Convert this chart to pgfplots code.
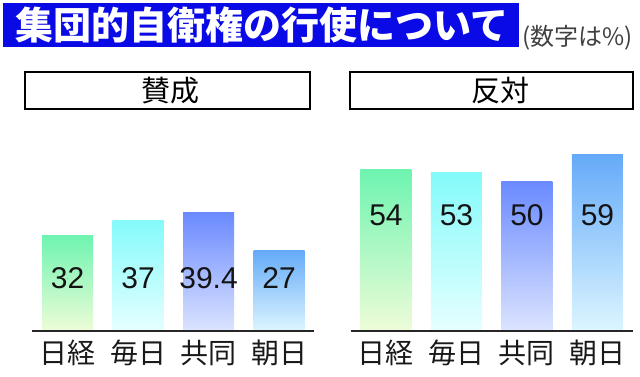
\documentclass[border=0pt]{standalone}
\usepackage{pgfplots}
\pgfplotsset{compat=1.18}
\usepackage{fontspec}
\setmainfont{Liberation Sans}
\newfontfamily\cjk{Noto Sans CJK JP}
\definecolor{titleblue}{HTML}{0A0AE6}
\definecolor{nkT}{HTML}{6EF4B0}\definecolor{nkB}{HTML}{EEFCD8}
\definecolor{mnT}{HTML}{84FAFA}\definecolor{mnB}{HTML}{E6FFFF}
\definecolor{kdT}{HTML}{6A8AFF}\definecolor{kdB}{HTML}{DCE4FF}
\definecolor{asT}{HTML}{64AAF8}\definecolor{asB}{HTML}{DDF6FF}
\pgfplotsset{
  panel/.style={
    scale only axis, width=282pt, height=180pt,
    xmin=-0.5, xmax=3.5, ymin=0, ymax=60,
    axis x line=bottom, axis y line=none, axis on top,
    x axis line style={line width=1.8pt, -, draw=black!85},
    xtick={0,1,2,3}, major tick length=0pt,
    xticklabels={日経,毎日,共同,朝日},
    xticklabel style={font=\cjk\fontsize{28}{28}\selectfont, anchor=base, yshift=-32pt, text=black!90},
    clip=false,
  },
  bar/.style n args={2}{ybar, bar width=51pt, bar shift=0pt, draw=none, top color=#1, bottom color=#2},
  vals/.style={only marks, mark=*, mark size=0.01pt, mark options={draw=none, fill=none},
    nodes near coords, point meta=explicit symbolic,
    every node near coord/.append style={anchor=center, font=\fontsize{30}{30}\selectfont, text=black!92}},
}
\begin{document}
\begin{tikzpicture}[x=1pt,y=1pt]
\path[use as bounding box] (0,0) rectangle (640,376);
% title
\fill[titleblue] (3,329) rectangle (519,373);
\node[anchor=center, text=white, font=\cjk\bfseries\fontsize{38}{38}\selectfont, inner sep=0pt] at (262,351) {集団的自衛権の行使について};
\node[anchor=base west, text=black!75, font=\cjk\fontsize{24}{24}\selectfont, inner sep=0pt] at (522,331) {(数字は\%)};
% headers
\draw[line width=1.3pt] (25,267) rectangle (310,304);
\node[font=\cjk\fontsize{29}{29}\selectfont] at (170,285.5) {賛成};
\draw[line width=1.3pt] (350,267) rectangle (633,304);
\node[font=\cjk\fontsize{29}{29}\selectfont] at (500,285.5) {反対};

\begin{axis}[panel, at={(32.3pt,45pt)}, anchor=south west]
\addplot[bar={nkT}{nkB}] coordinates {(0,32)};
\addplot[bar={mnT}{mnB}] coordinates {(1,37)};
\addplot[bar={kdT}{kdB}] coordinates {(2,39.4)};
\addplot[bar={asT}{asB}] coordinates {(3,27)};
\addplot[vals] table[meta=label] {
x y label
0 17.6 32
1 17.6 37
2 17.6 39.4
3 17.6 27
};
\end{axis}

\begin{axis}[panel, at={(350.7pt,45pt)}, anchor=south west]
\addplot[bar={nkT}{nkB}] coordinates {(0,54)};
\addplot[bar={mnT}{mnB}] coordinates {(1,53)};
\addplot[bar={kdT}{kdB}] coordinates {(2,50)};
\addplot[bar={asT}{asB}] coordinates {(3,59)};
\addplot[vals] table[meta=label] {
x y label
0 38.7 54
1 38.7 53
2 38.7 50
3 38.7 59
};
\end{axis}
\end{tikzpicture}
\end{document}
